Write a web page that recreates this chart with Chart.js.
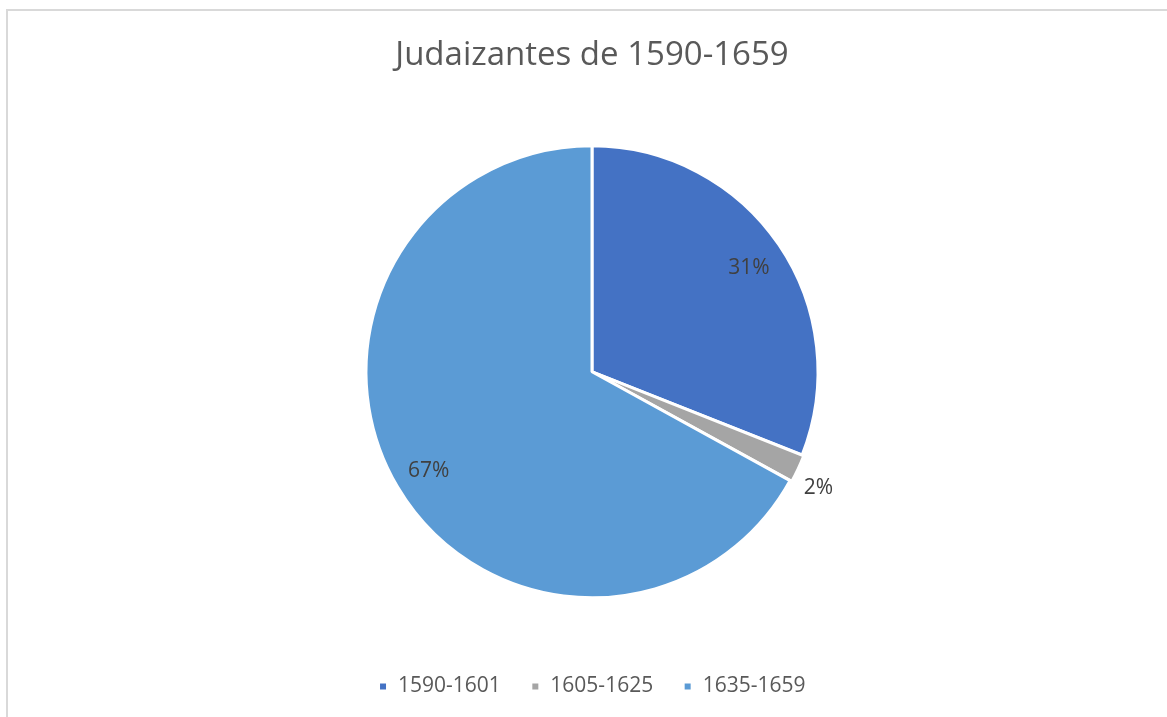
<!DOCTYPE html>
<html lang="es">
<head>
<meta charset="UTF-8">
<title>Judaizantes de 1590-1659</title>
<script src="https://cdn.jsdelivr.net/npm/chart.js@4.4.0/dist/chart.umd.min.js"></script>
<style>
  html, body { margin: 0; padding: 0; background: #fff; overflow: hidden; }
  body { width: 1167px; height: 717px; position: relative; }
  .frame {
    position: absolute; left: 6px; top: 9px;
    width: 1200px; height: 740px;
    border: 2px solid #d9d9d9;
  }
  .wrap { position: absolute; left: 0; top: 0; width: 1167px; height: 717px; }
</style>
</head>
<body>
<div class="frame"></div>
<div class="wrap"><canvas id="pie"></canvas></div>
<script>
// chart data
const categories = ['1590-1601', '1605-1625', '1635-1659'];
const shares = [31, 2, 67];
const sliceColors = ['#4472c4', '#a5a5a5', '#5b9bd5'];

// percent labels drawn on / next to each slice
const pctLabels = {
    id: 'pctLabels',
    afterDatasetsDraw(chart) {
        const ctx = chart.ctx;
        const arcs = chart.getDatasetMeta(0).data;
        const total = shares.reduce((a, b) => a + b, 0);
        ctx.save();
        ctx.font = '21px "Open Sans"';
        ctx.fillStyle = '#404040';
        arcs.forEach(function(arc, i) {
            const p = arc.getProps(['x', 'y', 'startAngle', 'endAngle', 'outerRadius'], true);
            const mid = (p.startAngle + p.endAngle) / 2;
            const small = shares[i] / total < 0.05;
            const dist = p.outerRadius * (small ? 1.035 : 0.84);
            const x = p.x + Math.cos(mid) * dist;
            const y = p.y + Math.sin(mid) * dist;
            // small slices get their label outside, hanging off the edge
            ctx.textAlign = small ? 'left' : 'center';
            ctx.textBaseline = small ? 'top' : 'middle';
            ctx.fillText(Math.round(shares[i] / total * 100) + '%', x, y + (small ? 6 : 3));
        });
        ctx.restore();
    }
};

const ctx = document.getElementById('pie').getContext('2d');
const chart = new Chart(ctx, {
    type: 'pie',
    data: {
        labels: categories,
        datasets: [{
            data: shares,
            backgroundColor: sliceColors,
            borderColor: '#ffffff',
            borderWidth: 3,
            offset: [0, 4, 0]
        }]
    },
    options: {
        responsive: true,
        maintainAspectRatio: false,
        animation: false,
        radius: 226,
        layout: { padding: { left: 17, top: 0, bottom: 10 } },
        plugins: {
            title: {
                display: true,
                text: 'Judaizantes de 1590-1659',
                color: '#595959',
                font: { family: '"Open Sans"', size: 33, weight: 'normal' },
                padding: { top: 36, bottom: 22 }
            },
            legend: {
                position: 'bottom',
                labels: {
                    color: '#595959',
                    font: { family: '"Open Sans"', size: 21 },
                    boxWidth: 9,
                    boxHeight: 9,
                    padding: 30
                }
            },
            tooltip: { enabled: false }
        }
    },
    plugins: [pctLabels]
});
</script>
</body>
</html>
